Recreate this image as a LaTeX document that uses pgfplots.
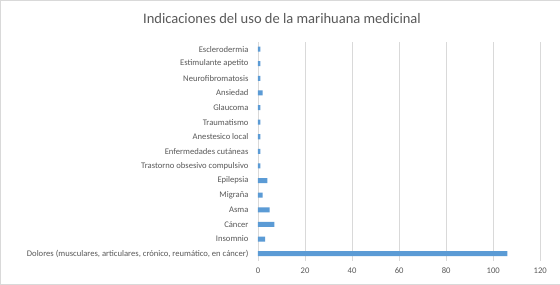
\documentclass[border=0pt]{standalone}
\usepackage{pgfplots}
\pgfplotsset{compat=1.18}
\usepackage{fontspec}
\setmainfont{Carlito}
\definecolor{barblue}{HTML}{5B9BD5}
\definecolor{txtgray}{HTML}{595959}
\definecolor{gridgray}{HTML}{D9D9D9}
\begin{document}
\begin{tikzpicture}[x=1pt,y=1pt]
\draw[gridgray, fill=white] (0.5,0.5) rectangle (559.5,284.5);
\node[text=txtgray, font=\fontsize{14.5}{17}\selectfont] at (282,266) {Indicaciones del uso de la marihuana medicinal};
\begin{axis}[
  at={(258pt,24pt)}, anchor=south west,
  scale only axis, width=282pt, height=219pt,
  xbar, bar width=5pt,
  xmin=0, xmax=120, xtick={0,20,...,120},
  ymin=-0.5, ymax=14.5,
  ytick={0,...,14},
  yticklabels={{Dolores (musculares, articulares, crónico, reumático, en cáncer)},Insomnio,Cáncer,Asma,Migraña,Epilepsia,Trastorno obsesivo compulsivo,Enfermedades cutáneas,Anestesico local,Traumatismo,Glaucoma,Ansiedad,Neurofibromatosis,Estimulante apetito,Esclerodermia},
  axis line style={draw=none},
  major tick length=0pt,
  xmajorgrids, grid style={gridgray, line width=0.7pt},
  ticklabel style={text=txtgray, font=\fontsize{8.6}{10}\selectfont},
  /pgf/number format/assume math mode=true,
  yticklabel style={xshift=-6pt},
  xticklabel style={yshift=-3pt},
  clip=false,
]
\addplot[fill=barblue, draw=none] coordinates {
(106,0) (3,1) (7,2) (5,3) (2,4) (4,5) (1,6) (1,7) (1,8) (1,9) (1,10) (2,11) (1,12) (1,13) (1,14)
};
\end{axis}
\end{tikzpicture}
\end{document}
